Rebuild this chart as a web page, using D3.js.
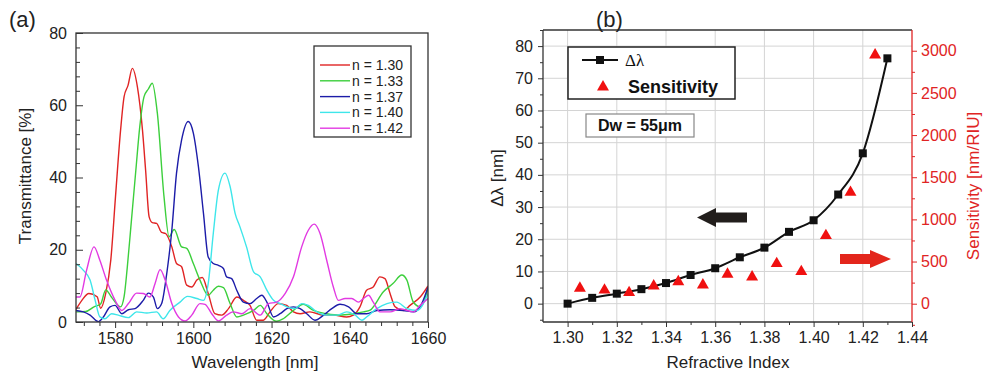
<!DOCTYPE html>
<html>
<head>
<meta charset="utf-8">
<script src="https://cdn.jsdelivr.net/npm/d3@7"></script>
<style>
body { margin: 0; background: #fff; }
svg { font-family: Arial, "Liberation Sans", sans-serif; }
</style>
</head>
<body>
<script>
// ---- panel (a): transmittance spectra, [wavelength nm, transmittance %]
var n130 = [[1570,3.5],[1571.5,6],[1573.3,7.9],[1575.4,7.0],[1576.3,3.8],[1577.6,7.9],[1578.9,17.2],[1580.1,34.7],[1581.4,53.1],[1582.3,62.4],[1583.3,65.5],[1584.4,70.2],[1585.7,65.1],[1587,53.1],[1587.8,42],[1588.7,29.1],[1589.5,27.5],[1590.6,27.3],[1591.9,24.8],[1592.9,24.5],[1594.5,20.8],[1595.7,16.2],[1597,15.3],[1598.3,10.2],[1599.6,9.7],[1600.9,11.6],[1602.3,12.3],[1603.8,7.9],[1605.5,2.3],[1607.3,1.9],[1609,3.7],[1611.1,6.9],[1612.8,6.0],[1614.5,4.6],[1616.2,0.5],[1617.9,0.5],[1619.6,2.8],[1621.7,5.1],[1623.9,4.6],[1625.6,2.8],[1627.3,2.3],[1629.8,2.8],[1633.3,1.9],[1635.8,1.9],[1639.2,1.4],[1640.9,1.9],[1642.6,4.2],[1644.3,8.8],[1646,9.7],[1647.7,12.5],[1649,12],[1650.3,7.9],[1651.6,4.2],[1653.7,3.2],[1655.4,4.6],[1658,6.9],[1660,10]];
var n133 = [[1570,2.8],[1572.5,2.9],[1574.6,4.2],[1576.3,5.0],[1577.6,8.9],[1579,7],[1580.4,5],[1581.4,4.2],[1582.3,7],[1583.1,15],[1584,26],[1585.3,42],[1586.3,54],[1587.4,62.4],[1588.5,64.5],[1589.5,66.1],[1590.8,57.8],[1592.5,34.7],[1593.8,23.6],[1595.1,25.6],[1597,20.8],[1598.3,20.4],[1600,16.2],[1601.7,11.6],[1603.8,7.4],[1605.1,8.8],[1606.4,9.9],[1607.7,9.5],[1609.4,5.1],[1611.1,1.4],[1612.8,1.9],[1615.4,3.2],[1617.1,4.6],[1618.8,2.3],[1621.3,0.2],[1623,0.9],[1625.6,3.2],[1628.1,4.9],[1630.7,3.2],[1634.1,2.3],[1637.5,1.9],[1640.9,2.3],[1643.5,2.8],[1645.2,3.3],[1648.6,8.4],[1651.1,10.7],[1653.3,13],[1654.6,11.6],[1656.2,5.6],[1658,4.2],[1660,9.3]];
var n137 = [[1570,3.2],[1571.9,2.8],[1573.6,1.9],[1575.7,0.1],[1577,1.4],[1578.7,4.2],[1580,4.6],[1581.7,2.3],[1583.4,3.4],[1585.1,3.7],[1587.2,6.0],[1588.5,8.0],[1589.8,6.9],[1590.8,3.7],[1591.9,5.1],[1593.2,13.4],[1594.5,25.4],[1595.7,41.2],[1597,50.4],[1598.7,55.5],[1600,52.3],[1601.3,43],[1602.6,30],[1603.8,18],[1605.1,16.2],[1606.4,15.7],[1607.7,14.8],[1608.5,12.5],[1609.8,12],[1611.1,8.8],[1612.8,5.5],[1614.5,5.1],[1616.2,6.5],[1617.5,7.4],[1618.8,5.5],[1620.5,1.4],[1622.2,2.3],[1623.9,3.7],[1625.6,4.2],[1627.3,3.7],[1629,2.3],[1631.1,0.5],[1633.3,1.9],[1635.4,3.7],[1637.5,4.9],[1639.7,4.2],[1641.8,2.3],[1644.3,2.3],[1646.9,3.2],[1650.3,3.4],[1653.7,3.2],[1656.3,2.8],[1658.4,5.1],[1660,9.7]];
var n140 = [[1570,16.2],[1571.9,14.3],[1573.6,11.6],[1574.9,6.0],[1576.1,1.4],[1577.4,0.9],[1579.1,2.3],[1580.8,1.9],[1583.4,1.2],[1585.5,2.8],[1588.1,2.5],[1590.6,2.8],[1592.3,0.9],[1594,3.2],[1596.6,5.5],[1598.5,7.1],[1600.9,6.5],[1602.6,6.0],[1603.8,10.6],[1605.1,24.5],[1606.4,36.5],[1608.1,41.2],[1609.4,37.5],[1610.7,30],[1611.9,26.4],[1613.6,20.8],[1615.4,13.9],[1617.1,12.5],[1618.8,8.8],[1620.5,6.0],[1622.2,5.1],[1623.9,4.2],[1626,3.7],[1627.7,5.1],[1629.4,4.6],[1631.6,2.8],[1634.1,1.9],[1636.7,1.9],[1639.2,2.8],[1641.4,1.9],[1643.1,0.5],[1644.3,1.4],[1646.9,3.7],[1649.5,5.1],[1652,5.5],[1654.6,3.7],[1657.2,3.2],[1660,7.9]];
var n142 = [[1570,6.9],[1571,6.9],[1572.7,14.3],[1574.6,20.8],[1576.1,17.1],[1577.8,11.6],[1580,6.0],[1581.7,3.2],[1583.4,5.1],[1585.5,8.0],[1587.2,7.9],[1588.9,6.9],[1590.2,10.6],[1591.5,14.5],[1592.8,11.6],[1594.5,5.1],[1596.2,1.4],[1597.9,0.3],[1599.6,1.9],[1601.7,5.1],[1603,4.9],[1604.7,2.3],[1606.4,0.3],[1608.5,1.9],[1610.2,2.8],[1612.4,2.3],[1614.5,3.7],[1617.1,1.9],[1619.2,5.1],[1621.3,5.5],[1623.5,7.9],[1625.6,12.5],[1627.7,20.8],[1629.4,25.4],[1630.9,27.1],[1632.4,24.5],[1634.1,17.1],[1635.8,9.7],[1637.1,6.0],[1638.8,6.5],[1640.5,6.5],[1642.2,5.5],[1643.5,6.5],[1644.8,7.4],[1646,5.5],[1647.7,2.8],[1650.3,2.8],[1652.8,3.7],[1656.3,2.8],[1658,4.6],[1660,6.5]];
var seriesNames = ["n = 1.30", "n = 1.33", "n = 1.37", "n = 1.40", "n = 1.42"];
var seriesColors = ["#e02424", "#3ccf3c", "#1c1ca8", "#3ee6ea", "#e23ae2"];
var wavelengthTicks = [1580, 1600, 1620, 1640, 1660];
var transTicks = [0, 20, 40, 60, 80];

// ---- panel (b): shift and sensitivity vs refractive index
var refIndex = [1.30, 1.31, 1.32, 1.33, 1.34, 1.35, 1.36, 1.37, 1.38, 1.39, 1.40, 1.41, 1.42, 1.43];
var deltaLambda = [0, 1.8, 3.1, 4.5, 6.4, 8.9, 11.0, 14.4, 17.4, 22.3, 25.9, 33.9, 46.7, 76.2];
var sensIndex = [1.305, 1.315, 1.325, 1.335, 1.345, 1.355, 1.365, 1.375, 1.385, 1.395, 1.405, 1.415, 1.425];
var sensitivity = [183, 162, 131, 210, 261, 222, 349, 317, 475, 380, 807, 1321, 2950];
var riTicks = [1.30, 1.32, 1.34, 1.36, 1.38, 1.40, 1.42, 1.44];
var shiftTicks = [0, 10, 20, 30, 40, 50, 60, 70, 80];
var sensTicks = [0, 500, 1000, 1500, 2000, 2500, 3000];

var red = "#e02424";
var svg = d3.select("body").append("svg").attr("width", 984).attr("height", 375);

// ================= panel (a) =================
var xA = d3.scaleLinear().domain([1570, 1660]).range([76, 428]);
var yA = d3.scaleLinear().domain([0, 80]).range([322, 33]);

var ga = svg.append("g");

ga.append("clipPath").attr("id", "clipA")
    .append("rect").attr("x", 76).attr("y", 33).attr("width", 352).attr("height", 289);

var lineA = d3.line()
    .x(function(d) { return xA(d[0]); })
    .y(function(d) { return yA(d[1]); })
    .curve(d3.curveMonotoneX);

[n130, n133, n137, n140, n142].forEach(function(s, i) {
    ga.append("path")
        .attr("clip-path", "url(#clipA)")
        .attr("d", lineA(s))
        .attr("fill", "none")
        .attr("stroke", seriesColors[i])
        .attr("stroke-width", 1.4);
});

// frame
ga.append("rect").attr("x", 76).attr("y", 33).attr("width", 352).attr("height", 289)
    .attr("fill", "none").attr("stroke", "#333").attr("stroke-width", 1.3);

// minor ticks
ga.append("g").attr("transform", "translate(0,322)")
    .call(d3.axisBottom(xA).tickValues(d3.range(1572, 1660, 4).filter(function(v) { return v % 20 != 0; }))
        .tickSize(4).tickSizeOuter(0).tickFormat(""))
    .call(function(g) { g.select(".domain").remove(); });
ga.append("g").attr("transform", "translate(76,0)")
    .call(d3.axisLeft(yA).tickValues(d3.range(4, 80, 4).filter(function(v) { return v % 20 != 0; }))
        .tickSize(-4).tickSizeOuter(0).tickFormat(""))
    .call(function(g) { g.select(".domain").remove(); });

// major ticks
ga.append("g").attr("transform", "translate(0,322)")
    .call(d3.axisBottom(xA).tickValues(wavelengthTicks).tickSize(6).tickSizeOuter(0).tickPadding(5)
        .tickFormat(d3.format("d")))
    .call(function(g) { g.select(".domain").remove(); });
ga.append("g").attr("transform", "translate(76,0)")
    .call(d3.axisLeft(yA).tickValues(transTicks).tickSize(-7).tickSizeOuter(0).tickPadding(9))
    .call(function(g) { g.select(".domain").remove(); });

ga.selectAll(".tick text").attr("font-size", 16).attr("font-family", "Arial, 'Liberation Sans', sans-serif").attr("fill", "#222");
ga.selectAll(".tick line").attr("stroke", "#333");

ga.append("text").attr("x", 255).attr("y", 368).attr("text-anchor", "middle")
    .attr("font-size", 17).attr("fill", "#222").text("Wavelength [nm]");
ga.append("text").attr("transform", "translate(31,176) rotate(-90)").attr("text-anchor", "middle")
    .attr("font-size", 17).attr("fill", "#222").text("Transmittance [%]");
ga.append("text").attr("x", 9).attr("y", 27).attr("font-size", 22).attr("fill", "#222").text("(a)");

// legend (a)
var legA = ga.append("g");
legA.append("rect").attr("x", 314).attr("y", 46).attr("width", 97).attr("height", 91)
    .attr("fill", "#fff").attr("stroke", "#333").attr("stroke-width", 1.3);
seriesNames.forEach(function(name, i) {
    var yy = 65 + i * 15.8;
    legA.append("line").attr("x1", 320).attr("x2", 350).attr("y1", yy).attr("y2", yy)
        .attr("stroke", seriesColors[i]).attr("stroke-width", 1.4);
    legA.append("text").attr("x", 352).attr("y", yy).attr("dy", "0.35em")
        .attr("font-size", 14).attr("fill", "#222").text(name);
});

// ================= panel (b) =================
var xB = d3.scaleLinear().domain([1.29, 1.44]).range([543, 912]);
var yB = d3.scaleLinear().domain([-5.7, 85]).range([322, 30]);
var yR = d3.scaleLinear().domain([-217, 3246]).range([322, 30]);

var gb = svg.append("g");

// grid
gb.selectAll("line.vgrid").data(riTicks.slice(0, -1)).enter().append("line")
    .attr("class", "vgrid")
    .attr("x1", function(d) { return xB(d); }).attr("x2", function(d) { return xB(d); })
    .attr("y1", 30).attr("y2", 322)
    .attr("stroke", "#d4d4d4").attr("stroke-width", 1);
gb.selectAll("line.hgrid").data(shiftTicks).enter().append("line")
    .attr("class", "hgrid")
    .attr("x1", 543).attr("x2", 912)
    .attr("y1", function(d) { return yB(d); }).attr("y2", function(d) { return yB(d); })
    .attr("stroke", "#d4d4d4").attr("stroke-width", 1);

// frame: top and left/bottom black, right red
gb.append("line").attr("x1", 543).attr("x2", 912).attr("y1", 30).attr("y2", 30).attr("stroke", "#333").attr("stroke-width", 1.3);
gb.append("line").attr("x1", 543).attr("x2", 912).attr("y1", 322).attr("y2", 322).attr("stroke", "#333").attr("stroke-width", 1.3);
gb.append("line").attr("x1", 543).attr("x2", 543).attr("y1", 30).attr("y2", 322).attr("stroke", "#333").attr("stroke-width", 1.3);
gb.append("line").attr("x1", 912).attr("x2", 912).attr("y1", 30).attr("y2", 322).attr("stroke", red).attr("stroke-width", 1.3);

function noDomain(g) { g.select(".domain").remove(); }

// minor ticks
gb.append("g").attr("transform", "translate(0,322)")
    .call(d3.axisBottom(xB).tickValues(d3.range(1.31, 1.44, 0.02)).tickSize(3).tickSizeOuter(0).tickFormat(""))
    .call(noDomain);
gb.append("g").attr("transform", "translate(543,0)")
    .call(d3.axisLeft(yB).tickValues(d3.range(-5, 86, 10)).tickSize(3).tickSizeOuter(0).tickFormat(""))
    .call(noDomain);
var rMinor = gb.append("g").attr("transform", "translate(912,0)")
    .call(d3.axisRight(yR).tickValues(d3.range(-250, 3246, 500)).tickSize(3).tickSizeOuter(0).tickFormat(""))
    .call(noDomain);

// major ticks
gb.append("g").attr("transform", "translate(0,322)")
    .call(d3.axisBottom(xB).tickValues(riTicks).tickSize(5).tickSizeOuter(0).tickPadding(5)
        .tickFormat(function(d) { return d.toFixed(2); }))
    .call(noDomain);
gb.append("g").attr("transform", "translate(543,0)")
    .call(d3.axisLeft(yB).tickValues(shiftTicks).tickSize(5).tickSizeOuter(0).tickPadding(5))
    .call(noDomain);
var rMajor = gb.append("g").attr("transform", "translate(912,0)")
    .call(d3.axisRight(yR).tickValues(sensTicks).tickSize(5).tickSizeOuter(0).tickPadding(4)
        .tickFormat(d3.format("d")))
    .call(noDomain);

gb.selectAll(".tick text").attr("font-size", 16).attr("font-family", "Arial, 'Liberation Sans', sans-serif").attr("fill", "#222");
gb.selectAll(".tick line").attr("stroke", "#333");
rMinor.selectAll(".tick line").attr("stroke", red);
rMajor.selectAll(".tick line").attr("stroke", red);
rMajor.selectAll(".tick text").attr("fill", red);

// shift curve
var lineB = d3.line()
    .x(function(d, i) { return xB(refIndex[i]); })
    .y(function(d) { return yB(d); })
    .curve(d3.curveMonotoneX);
gb.append("path").attr("d", lineB(deltaLambda))
    .attr("fill", "none").attr("stroke", "#111").attr("stroke-width", 2);
gb.selectAll("rect.pt").data(deltaLambda).enter().append("rect")
    .attr("class", "pt")
    .attr("x", function(d, i) { return xB(refIndex[i]) - 4; })
    .attr("y", function(d) { return yB(d) - 4; })
    .attr("width", 8).attr("height", 8).attr("fill", "#111");

// sensitivity triangles
var tri = d3.symbol().type(d3.symbolTriangle).size(62);
gb.selectAll("path.tri").data(sensitivity).enter().append("path")
    .attr("class", "tri")
    .attr("d", tri)
    .attr("transform", function(d, i) { return "translate(" + xB(sensIndex[i]) + "," + yR(d) + ")"; })
    .attr("fill", "#f01010");

// arrows
gb.append("path")
    .attr("d", "M697,217.5 L716,208 L716,212.5 L747,212.5 L747,222.5 L716,222.5 L716,227 Z")
    .attr("fill", "#221e1c");
gb.append("path")
    .attr("d", "M891,259 L870,250 L870,254 L840,254 L840,264 L870,264 L870,268 Z")
    .attr("fill", "#e3261c");

// legend (b)
var legB = gb.append("g");
legB.append("rect").attr("x", 568).attr("y", 47).attr("width", 167).attr("height", 52)
    .attr("fill", "#fff").attr("stroke", "#222").attr("stroke-width", 1.5);
legB.append("line").attr("x1", 582).attr("x2", 618).attr("y1", 60).attr("y2", 60)
    .attr("stroke", "#111").attr("stroke-width", 2);
legB.append("rect").attr("x", 596).attr("y", 56).attr("width", 8).attr("height", 8).attr("fill", "#111");
legB.append("text").attr("x", 625).attr("y", 60).attr("dy", "0.35em")
    .attr("font-size", 17).attr("font-family", "'Liberation Serif', 'DejaVu Serif', serif").attr("fill", "#111").text("Δλ");
legB.append("path").attr("d", tri).attr("transform", "translate(603,87)").attr("fill", "#f01010");
legB.append("text").attr("x", 628).attr("y", 87).attr("dy", "0.35em")
    .attr("font-size", 18).attr("font-weight", "bold").attr("fill", "#111").text("Sensitivity");

// Dw box
gb.append("rect").attr("x", 586).attr("y", 114).attr("width", 108).attr("height", 23)
    .attr("fill", "#fff").attr("stroke", "#888").attr("stroke-width", 1.2);
gb.append("text").attr("x", 640).attr("y", 125.5).attr("dy", "0.35em").attr("text-anchor", "middle")
    .attr("font-size", 16).attr("font-weight", "bold").attr("fill", "#111").text("Dw = 55μm");

// titles
gb.append("text").attr("x", 728).attr("y", 368).attr("text-anchor", "middle")
    .attr("font-size", 17).attr("fill", "#222").text("Refractive Index");
gb.append("text").attr("transform", "translate(503,178) rotate(-90)").attr("text-anchor", "middle")
    .attr("font-size", 17).attr("fill", "#222").text("Δλ [nm]");
gb.append("text").attr("transform", "translate(979,186) rotate(-90)").attr("text-anchor", "middle")
    .attr("font-size", 17).attr("fill", red).text("Sensitivity [nm/RIU]");
gb.append("text").attr("x", 596).attr("y", 27).attr("font-size", 22).attr("fill", "#222").text("(b)");
</script>
</body>
</html>
